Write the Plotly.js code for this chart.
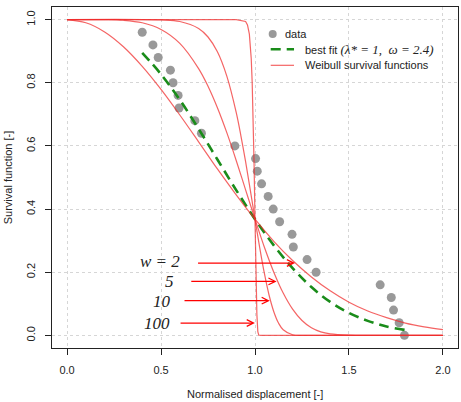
<!DOCTYPE html>
<html>
<head>
<meta charset="utf-8">
<script src="https://cdn.plot.ly/plotly-3.0.1.min.js"></script>
<style>
  html, body { margin: 0; padding: 0; background: #fff; }
  #chart { width: 461px; height: 402px; }
</style>
</head>
<body>
<div id="chart"></div>
<script>
// Observed survival data (normalised displacement vs. survival fraction)
const dispData = [0.40, 0.457, 0.485, 0.55, 0.564, 0.591, 0.596, 0.68, 0.715, 0.893,
                  1.003, 1.012, 1.035, 1.07, 1.097, 1.131, 1.197, 1.204, 1.277, 1.325,
                  1.666, 1.725, 1.737, 1.767, 1.795];
const survData = [0.96, 0.92, 0.88, 0.84, 0.80, 0.76, 0.72, 0.68, 0.64, 0.60,
                  0.56, 0.52, 0.48, 0.44, 0.40, 0.36, 0.32, 0.28, 0.24, 0.20,
                  0.16, 0.12, 0.08, 0.04, 0.00];

// Best fit curve (lambda* = 1, omega = 2.4)
const fitX = [0.4, 0.5, 0.6, 0.7, 0.8, 0.9, 1.0, 1.1, 1.2, 1.3, 1.4, 1.5, 1.6, 1.7, 1.8];
const fitS = [0.895, 0.827, 0.746, 0.654, 0.557, 0.460, 0.368, 0.285, 0.213, 0.153,
              0.106, 0.071, 0.046, 0.028, 0.017];

// Weibull survival functions, shape w = 2, 5, 10, 100
const w2X = [0, 0.1, 0.2, 0.3, 0.4, 0.5, 0.6, 0.7, 0.8, 0.9, 1.0,
             1.1, 1.2, 1.3, 1.4, 1.5, 1.6, 1.7, 1.8, 1.9, 2.0];
const w2S = [1, 0.990, 0.961, 0.914, 0.852, 0.779, 0.698, 0.613, 0.527, 0.445, 0.368,
             0.298, 0.237, 0.185, 0.141, 0.105, 0.077, 0.056, 0.039, 0.027, 0.018];

const w5X = [0, 0.2, 0.3, 0.4, 0.5, 0.6, 0.7, 0.75, 0.8, 0.85, 0.9, 0.95, 1.0,
             1.05, 1.1, 1.15, 1.2, 1.25, 1.3, 1.35, 1.4, 1.5, 1.6, 1.8, 2.0];
const w5S = [1, 1.000, 0.998, 0.990, 0.969, 0.925, 0.845, 0.789, 0.721, 0.642, 0.554, 0.461, 0.368,
             0.279, 0.200, 0.134, 0.083, 0.047, 0.024, 0.011, 0.005, 0.001, 0, 0, 0];

const w10X = [0, 0.5, 0.6, 0.7, 0.75, 0.8, 0.85, 0.9, 0.925, 0.95, 0.975, 1.0,
              1.025, 1.05, 1.075, 1.1, 1.125, 1.15, 1.2, 1.25, 1.3, 2.0];
const w10S = [1, 0.999, 0.994, 0.972, 0.945, 0.898, 0.821, 0.706, 0.632, 0.550, 0.460, 0.368,
              0.278, 0.196, 0.127, 0.075, 0.039, 0.018, 0.002, 0, 0, 0];

const w100X = [0, 0.9, 0.95, 0.96, 0.97, 0.98, 0.985, 0.99, 0.995, 1.0,
               1.005, 1.01, 1.015, 1.02, 1.03, 2.0];
const w100S = [1, 1, 0.994, 0.983, 0.954, 0.876, 0.802, 0.693, 0.546, 0.368,
               0.193, 0.067, 0.012, 0.001, 0, 0];

// Shape labels and the points their arrows mark on each curve
const shapeLabels = ['w = 2', '5', '10', '100'];
const labelRightX = [0.610, 0.582, 0.562, 0.561];
const labelY      = [0.234, 0.171, 0.107, 0.039];
const arrowTailX  = [0.689, 0.653, 0.617, 0.596];
const arrowHeadX  = [1.213, 1.115, 1.079, 0.9995];
const arrowY      = [0.229, 0.171, 0.110, 0.039];

const xTicks = [0, 0.5, 1, 1.5, 2];
const yTicks = [0, 0.2, 0.4, 0.6, 0.8, 1];

const RED = 'rgba(240,40,40,0.72)';
const GREEN = '#1a8c1a';
const GREY = '#999999';
const SANS = 'Liberation Sans, Arial, sans-serif';
const SERIF = 'Liberation Serif, Times New Roman, serif';

const weibullLine = { color: RED, width: 1.2 };

const traces = [
  { x: dispData, y: survData, type: 'scatter', mode: 'markers',
    marker: { color: GREY, size: 9 }, showlegend: false, hoverinfo: 'skip' },
  { x: fitX, y: fitS, type: 'scatter', mode: 'lines',
    line: { color: GREEN, width: 2.6, dash: '10px,6px', shape: 'spline' },
    showlegend: false, hoverinfo: 'skip' },
  { x: w2X, y: w2S, type: 'scatter', mode: 'lines',
    line: Object.assign({ shape: 'spline' }, weibullLine), showlegend: false, hoverinfo: 'skip' },
  { x: w5X, y: w5S, type: 'scatter', mode: 'lines',
    line: Object.assign({ shape: 'spline' }, weibullLine), showlegend: false, hoverinfo: 'skip' },
  { x: w10X, y: w10S, type: 'scatter', mode: 'lines',
    line: Object.assign({ shape: 'spline' }, weibullLine), showlegend: false, hoverinfo: 'skip' },
  { x: w100X, y: w100S, type: 'scatter', mode: 'lines',
    line: Object.assign({ shape: 'linear' }, weibullLine), showlegend: false, hoverinfo: 'skip' }
];

const annotations = [];

// shape labels with arrows pointing at the curves
shapeLabels.forEach((txt, i) => {
  annotations.push({
    x: labelRightX[i], y: labelY[i], xref: 'x', yref: 'y',
    text: '<i>' + txt + '</i>', showarrow: false,
    xanchor: 'right', yanchor: 'middle',
    font: { family: SERIF, size: 17, color: '#222' }
  });
  annotations.push({
    x: arrowHeadX[i], y: arrowY[i], xref: 'x', yref: 'y',
    ax: arrowTailX[i], ay: arrowY[i], axref: 'x', ayref: 'y',
    text: '', showarrow: true, arrowhead: 5, arrowsize: 1.1,
    arrowwidth: 1.2, arrowcolor: 'red', standoff: 0
  });
});

// legend entries
annotations.push(
  { x: 0.569, y: 0.921, xref: 'paper', yref: 'paper', xanchor: 'left', yanchor: 'middle',
    text: 'data', showarrow: false, font: { family: SANS, size: 11, color: '#222' } },
  { x: 0.619, y: 0.876, xref: 'paper', yref: 'paper', xanchor: 'left', yanchor: 'middle',
    text: 'best fit <span style="font-family:Liberation Serif;font-style:italic;font-size:13px">(λ* = 1,  ω = 2.4)</span>',
    showarrow: false, font: { family: SANS, size: 11, color: '#222' } },
  { x: 0.619, y: 0.829, xref: 'paper', yref: 'paper', xanchor: 'left', yanchor: 'middle',
    text: 'Weibull survival functions', showarrow: false,
    font: { family: SANS, size: 11, color: '#222' } }
);

// axis titles
annotations.push(
  { x: 0.5, y: -0.157, xref: 'paper', yref: 'paper', xanchor: 'center', yanchor: 'bottom',
    text: 'Normalised displacement [-]', showarrow: false,
    font: { family: SANS, size: 11, color: '#222' } },
  { x: -0.109, y: 0.5, xref: 'paper', yref: 'paper', xanchor: 'center', yanchor: 'middle',
    text: 'Survival function [-]', showarrow: false, textangle: -90,
    font: { family: SANS, size: 11, color: '#222' } }
);

const shapes = [
  { type: 'circle', xref: 'paper', yref: 'paper', xsizemode: 'pixel', ysizemode: 'pixel',
    xanchor: 0.5436, yanchor: 0.921, x0: -4, x1: 4, y0: -4, y1: 4,
    fillcolor: GREY, line: { width: 0 } },
  { type: 'line', xref: 'paper', yref: 'paper', x0: 0.5387, x1: 0.5961, y0: 0.876, y1: 0.876,
    line: { color: GREEN, width: 2.6, dash: '10px,6px' } },
  { type: 'line', xref: 'paper', yref: 'paper', x0: 0.5387, x1: 0.5961, y0: 0.829, y1: 0.829,
    line: { color: RED, width: 1.2 } }
];

const axisCommon = {
  showline: true, mirror: true, linecolor: '#222', linewidth: 1,
  ticks: 'outside', ticklen: 6, tickwidth: 1, tickcolor: '#222',
  showgrid: true, gridcolor: '#d6d6d6', griddash: 'dot', gridwidth: 1,
  zeroline: false, tickformat: '.1f',
  tickfont: { family: SANS, size: 11, color: '#222' }
};

const layout = {
  width: 461, height: 402,
  margin: { l: 52, r: 3, t: 7, b: 54 },
  paper_bgcolor: '#fff', plot_bgcolor: '#fff',
  xaxis: Object.assign({}, axisCommon, {
    range: [-0.08, 2.08], tickmode: 'array', tickvals: xTicks, ticklabelstandoff: 6
  }),
  yaxis: Object.assign({}, axisCommon, {
    range: [-0.04, 1.04], tickmode: 'array', tickvals: yTicks, tickangle: -90,
    ticklabelstandoff: 6
  }),
  annotations: annotations,
  shapes: shapes,
  showlegend: false
};

Plotly.newPlot('chart', traces, layout, { staticPlot: true, displayModeBar: false });
</script>
</body>
</html>
